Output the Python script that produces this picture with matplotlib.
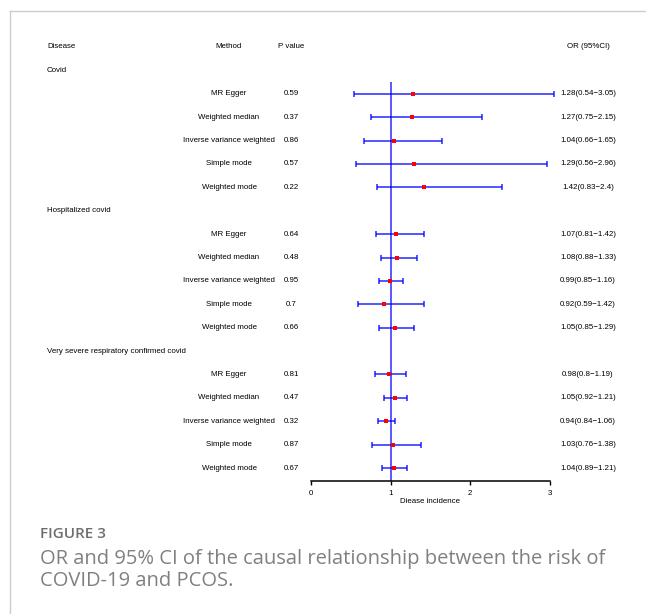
"""
Forest plot: OR and 95% CI of COVID-19 exposures vs PCOS (MR methods).
"""

import matplotlib

matplotlib.use("Agg")
import matplotlib.pyplot as plt  # noqa: E402
from matplotlib.lines import Line2D  # noqa: E402
import matplotlib.transforms as mtransforms  # noqa: E402

groups = ["Covid", "Hospitalized covid", "Very severe respiratory confirmed covid"]
methods = [
    "MR Egger",
    "Weighted median",
    "Inverse variance weighted",
    "Simple mode",
    "Weighted mode",
]

or_values = [
    [1.28, 1.27, 1.04, 1.29, 1.42],
    [1.07, 1.08, 0.99, 0.92, 1.05],
    [0.98, 1.05, 0.94, 1.03, 1.04],
]
ci_low = [
    [0.54, 0.75, 0.66, 0.56, 0.83],
    [0.81, 0.88, 0.85, 0.59, 0.85],
    [0.80, 0.92, 0.84, 0.76, 0.89],
]
ci_high = [
    [3.05, 2.15, 1.65, 2.96, 2.4],
    [1.42, 1.33, 1.16, 1.42, 1.29],
    [1.19, 1.21, 1.06, 1.38, 1.21],
]
p_values = [
    ["0.59", "0.37", "0.86", "0.57", "0.22"],
    ["0.64", "0.48", "0.95", "0.7", "0.66"],
    ["0.81", "0.47", "0.32", "0.87", "0.67"],
]
or_labels = [
    ["1.28(0.54\u22123.05)", "1.27(0.75\u22122.15)", "1.04(0.66\u22121.65)",
     "1.29(0.56\u22122.96)", "1.42(0.83\u22122.4)"],
    ["1.07(0.81\u22121.42)", "1.08(0.88\u22121.33)", "0.99(0.85\u22121.16)",
     "0.92(0.59\u22121.42)", "1.05(0.85\u22121.29)"],
    ["0.98(0.8\u22121.19)", "1.05(0.92\u22121.21)", "0.94(0.84\u22121.06)",
     "1.03(0.76\u22121.38)", "1.04(0.89\u22121.21)"],
]
x_ticks = [0, 1, 2, 3]

W, H = 646, 614
TXT = 5.7
BLUE = "#0000ff"
CAPTION_FONT = ["Open Sans", "DejaVu Sans"]

plt.rcParams["font.family"] = ["Liberation Sans", "DejaVu Sans"]

fig = plt.figure(figsize=(W / 100, H / 100), dpi=100)

# page frame (light gray left/top border)
fig.add_artist(Line2D([10 / W, 10 / W], [0, 1 - 11 / H], transform=fig.transFigure,
                      color="#cccccc", lw=1))
fig.add_artist(Line2D([10 / W, 1], [1 - 11 / H, 1 - 11 / H], transform=fig.transFigure,
                      color="#cccccc", lw=1))

# rows: 0 = header, then group title + 5 methods per group
row0_px, step_px = 47, 23.39
ax_top_px, ax_bot_px = 82, 481
ylim_top = (ax_top_px - row0_px) / step_px
ylim_bot = (ax_bot_px - row0_px) / step_px

ax = fig.add_axes([311 / W, 1 - ax_bot_px / H, 239 / W, (ax_bot_px - ax_top_px) / H])
ax.set_xlim(0, 3)
ax.set_ylim(ylim_bot, ylim_top)

ax.axvline(1, color=BLUE, lw=1.4, alpha=0.65, zorder=1)

blend = mtransforms.blended_transform_factory(fig.transFigure, ax.transData)


def cell(x_px, y, s, ha="center"):
    ax.text(x_px / W, y, s, transform=blend, ha=ha, va="center", fontsize=TXT,
            clip_on=False)


cell(47, 0, "Disease", ha="left")
cell(229, 0, "Method")
cell(291, 0, "P value")
cell(588, 0, "OR (95%CI)")

row = 1
for g, group in enumerate(groups):
    cell(47, row, group, ha="left")
    row += 1
    for m, method in enumerate(methods):
        est = or_values[g][m]
        lo, hi = ci_low[g][m], ci_high[g][m]
        ax.errorbar(est, row, xerr=[[est - lo], [hi - est]], fmt="none", ecolor=BLUE,
                    elinewidth=1.1, capsize=2.4, capthick=1.1, alpha=0.85, zorder=2,
                    clip_on=False)
        ax.plot(est, row, "s", color="#ff0000", markersize=2.6, markeredgewidth=0,
                zorder=3, clip_on=False)
        cell(229, row, method)
        cell(291, row, p_values[g][m])
        cell(588, row, or_labels[g][m])
        row += 1

for side in ("left", "top", "right"):
    ax.spines[side].set_visible(False)
ax.spines["bottom"].set_linewidth(1.1)
ax.set_yticks([])
ax.set_xticks(x_ticks)
ax.tick_params(axis="x", direction="out", length=3, width=1.0, labelsize=TXT, pad=3.5)
ax.set_xlabel("Diease incidence", fontsize=TXT, labelpad=1)

# caption
fig.text(40 / W, 1 - 534 / H, "FIGURE 3", ha="left", va="center", fontsize=11,
         color="#6d6e71", family=CAPTION_FONT, weight="semibold")
fig.text(40 / W, 1 - 559 / H, "OR and 95% CI of the causal relationship between the risk of",
         ha="left", va="center", fontsize=14.5, color="#7f8083", family=CAPTION_FONT)
fig.text(40 / W, 1 - 581 / H, "COVID-19 and PCOS.", ha="left", va="center", fontsize=14.5,
         color="#7f8083", family=CAPTION_FONT)

fig.savefig("out.png", dpi=100)
